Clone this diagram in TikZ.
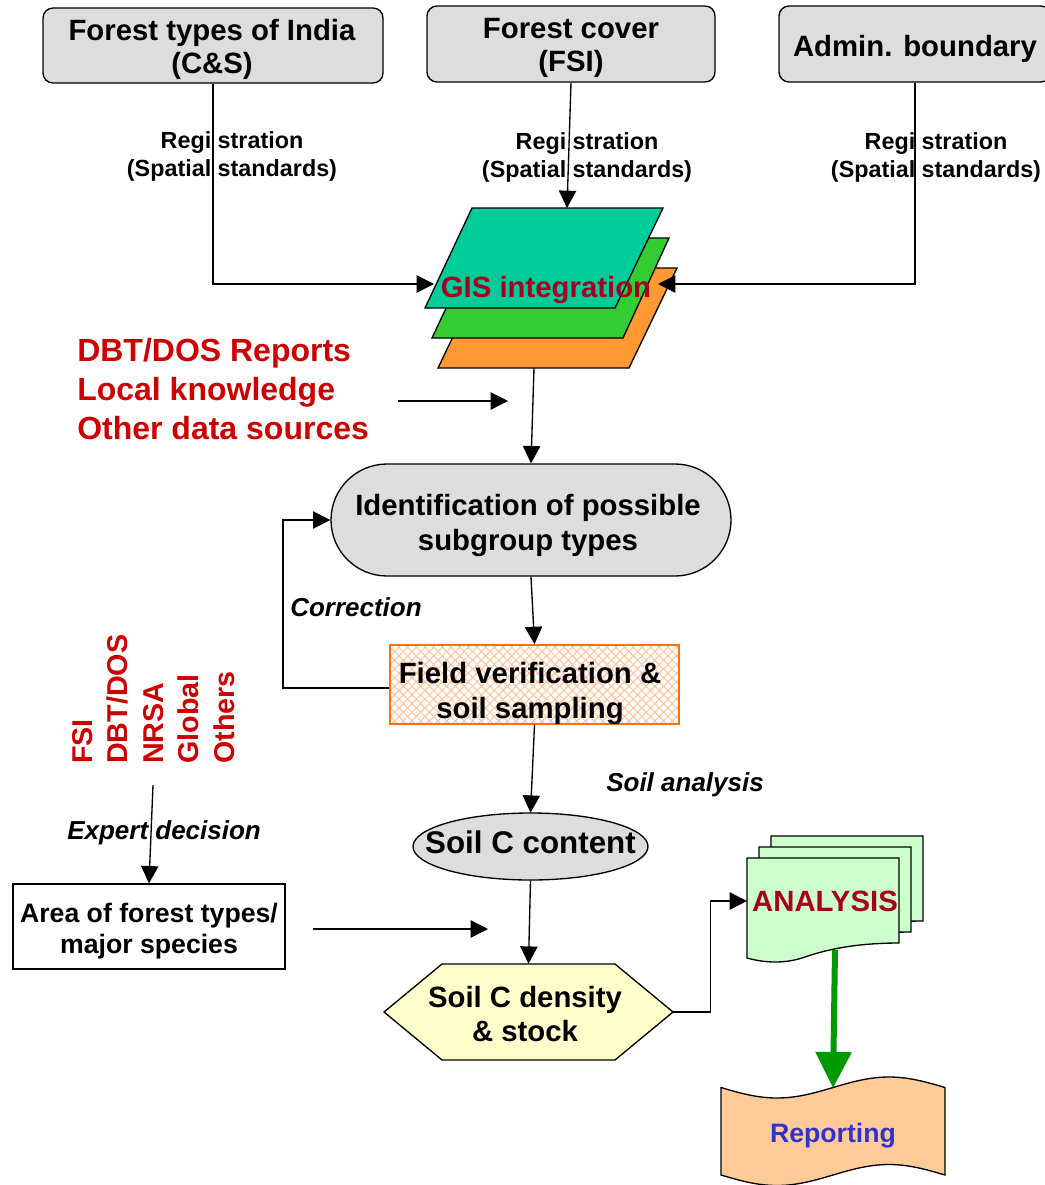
\documentclass[tikz,border=0pt]{standalone}
\usepackage{fontspec}
\setmainfont{Liberation Sans}
\usetikzlibrary{arrows.meta,shapes.geometric,patterns.meta}

\definecolor{boxgray}{RGB}{221,221,221}
\definecolor{gisred}{RGB}{165,0,33}
\definecolor{srcred}{RGB}{204,0,0}
\definecolor{tealone}{RGB}{0,204,153}
\definecolor{greenone}{RGB}{51,204,51}
\definecolor{orangeone}{RGB}{255,153,51}
\definecolor{fieldline}{RGB}{255,110,20}
\definecolor{hatchcol}{RGB}{255,195,155}
\definecolor{hexfill}{RGB}{255,255,204}
\definecolor{docfill}{RGB}{204,255,204}
\definecolor{arrowgreen}{RGB}{0,153,0}
\definecolor{tapefill}{RGB}{255,204,153}
\definecolor{repblue}{RGB}{51,51,204}

\begin{document}
\begin{tikzpicture}[x=0.75pt,y=-0.75pt,
  every node/.style={inner sep=0pt},
  conn/.style={line width=1pt, draw=black},
  arr/.style={conn, -{Triangle[length=13pt,width=13pt]}},
  shp/.style={draw=black, line width=1pt},
  bigfont/.style={font=\fontsize{22}{24.75}\selectfont\bfseries},
  midfont/.style={align=center, font=\fontsize{22}{26.25}\selectfont\bfseries},
  topbox/.style={shp, fill=boxgray, rounded corners=7.5pt},
  toptext/.style={align=center, bigfont},
  regtext/.style={align=center, font=\fontsize{17.5}{21}\selectfont\bfseries},
  itlabel/.style={font=\fontsize{19.5}{23}\selectfont\bfseries\itshape},
  srctext/.style={align=left, text=srcred, font=\fontsize{24}{29}\selectfont\bfseries},
  vtext/.style={rotate=90, anchor=base west, text=srcred, font=\fontsize{21.5}{25}\selectfont\bfseries},
  identbox/.style={shp, fill=boxgray, rounded corners=42pt, minimum width=300pt, minimum height=84pt},
  fieldbox/.style={draw=fieldline, line width=1.3pt, minimum width=216.75pt, minimum height=59.25pt,
    preaction={fill=white},
    preaction={pattern={Lines[angle=45,distance=4.6pt,line width=0.75pt]}, pattern color=hatchcol},
    preaction={pattern={Lines[angle=-45,distance=4.6pt,line width=0.75pt]}, pattern color=hatchcol}},
  areabox/.style={shp, fill=white, minimum width=204pt, minimum height=63.75pt},
  areatext/.style={align=center, font=\fontsize{20}{23.25}\selectfont\bfseries},
  hexnode/.style={minimum width=216.75pt, minimum height=72pt},
]
\useasboundingbox (0,0) rectangle (1045,1185);

% top boxes
\node[topbox, minimum width=255pt, minimum height=56.25pt] (box1) at (213,45.5) {};
\node[toptext] (box1t) at (212,49.5) {Forest types of India\\(C\&S)};
\node[topbox, minimum width=216pt, minimum height=57pt] (box2) at (571,44) {};
\node[toptext] (box2t) at (571,48) {Forest cover\\(FSI)};
\node[topbox, minimum width=204pt, minimum height=57pt] (box3) at (915,44) {};
\node[toptext] (box3t) at (915,49) {Admin. boundary};

% registration labels
\node[regtext] (reg1) at (232,156) {Regi stration\\(Spatial standards)};
\node[regtext] (reg2) at (587,157) {Regi stration\\(Spatial standards)};
\node[regtext] (reg3) at (936,157) {Regi stration\\(Spatial standards)};

% GIS layers
\filldraw[shp, fill=orangeone] (486,268) -- (677,268) -- (629,368) -- (438,368) -- cycle;
\filldraw[shp, fill=greenone] (479,238) -- (669,238) -- (623,338) -- (432,338) -- cycle;
\filldraw[shp, fill=tealone] (472,208) -- (663,208) -- (615,308) -- (425,308) -- cycle;
\coordinate (gisT) at (567,208);
\coordinate (gisL) at (434,284);
\coordinate (gisR) at (658,284);
\coordinate (gisB) at (534,368);

\draw[arr] (box1.south) |- (gisL);
\draw[arr] (box2.south) -- (gisT);
\draw[arr] (box3.south) |- (gisR);
\node[bigfont, text=gisred] (gis) at (546,290) {GIS integration};

% sources
\node[srctext, anchor=west] (src) at (77,389) {DBT/DOS Reports\\Local knowledge\\Other data sources};
\coordinate (srcA) at (398,401);
\coordinate (srcB) at (508,401);
\draw[arr] (srcA) -- (srcB);

% identification
\node[identbox] (ident) at (531,520) {};
\node[midfont] (identt) at (528,525) {Identification of possible\\subgroup types};
\draw[arr] (gisB) -- (ident.north);

% field
\node[fieldbox] (field) at (534.5,684.5) {};
\node[midfont] (fieldt) at (530,693) {Field verification \&\\soil sampling};
\draw[arr] (ident.south) -- (field.north);
\draw[arr] ([yshift=-2.7pt]field.west) -- ++(-106,0) |- (ident.west);
\node[itlabel, anchor=west] (corr) at (290,607) {Correction};

% soil C content
\draw[shp, fill=boxgray] (530.5,846.5) ellipse [x radius=117.5, y radius=33.5];
\node[minimum width=176.25pt, minimum height=50.25pt] (soilc) at (530.5,846.5) {};
\node[font=\fontsize{23.5}{26}\selectfont\bfseries] (soilct) at (530.5,842.5) {Soil C content};
\draw[arr] (field.south) -- (soilc.north);
\node[itlabel, anchor=west] (sana) at (606,785) {Soil analysis};

% vertical sources
\node[vtext] (v1) at (92,764) {FSI};
\node[vtext] (v2) at (127.6,764) {DBT/DOS};
\node[vtext] (v3) at (163.2,764) {NRSA};
\node[vtext] (v4) at (198.8,764) {Global};
\node[vtext] (v5) at (234.4,764) {Others};

% area
\node[areabox] (area) at (149,926.5) {};
\node[areatext] (areat) at (149,931.5) {Area of forest types/\\major species};
\coordinate (expA) at (153,785);
\draw[arr] (expA) -- (area.north);
\node[itlabel, anchor=west] (expert) at (67,833) {Expert decision};
\coordinate (areaA) at (313,929);
\coordinate (areaB) at (488,929);
\draw[arr] (areaA) -- (areaB);

% hexagon
\filldraw[shp, fill=hexfill] (384,1012) -- (442,964) -- (615,964) -- (673,1012) -- (615,1060) -- (442,1060) -- cycle;
\node[hexnode] (hex) at (528.5,1012) {};
\node[align=center, font=\fontsize{22}{25.5}\selectfont\bfseries] (hext) at (525,1014) {Soil C density\\\& stock};
\draw[arr] (soilc.south) -- (hex.north);

% analysis documents
\foreach \dx/\dy in {24/-22, 12/-11, 0/0} {
  \filldraw[shp, fill=docfill, shift={(\dx,\dy)}] (747,858) -- (899,858) -- (899,943)
    .. controls (855,943) and (825,950) .. (805,957)
    .. controls (785,964) and (765,963) .. (747,958) -- cycle;
}
\coordinate (anaIn) at (747,901);
\node[bigfont, text=gisred] (ana) at (825,901) {ANALYSIS};
\draw[arr] (hex.east) -- ++(37,0) |- (anaIn);

% reporting tape
\filldraw[shp, fill=tapefill] (721,1087.5) sin (777,1098) cos (833,1087.5) sin (889,1077) cos (945,1087.5)
  -- (945,1175) sin (889,1164.5) cos (833,1175) sin (777,1185.5) cos (721,1175) -- cycle;
\coordinate (anaOut) at (835,950);
\coordinate (repTop) at (833,1088);
\draw[line width=4.5pt, draw=arrowgreen, -{Triangle[length=27pt,width=26.25pt]}] (anaOut) -- (repTop);
\node[font=\fontsize{20}{24}\selectfont\bfseries, text=repblue] (rep) at (833,1136) {Reporting};
\end{tikzpicture}
\end{document}
